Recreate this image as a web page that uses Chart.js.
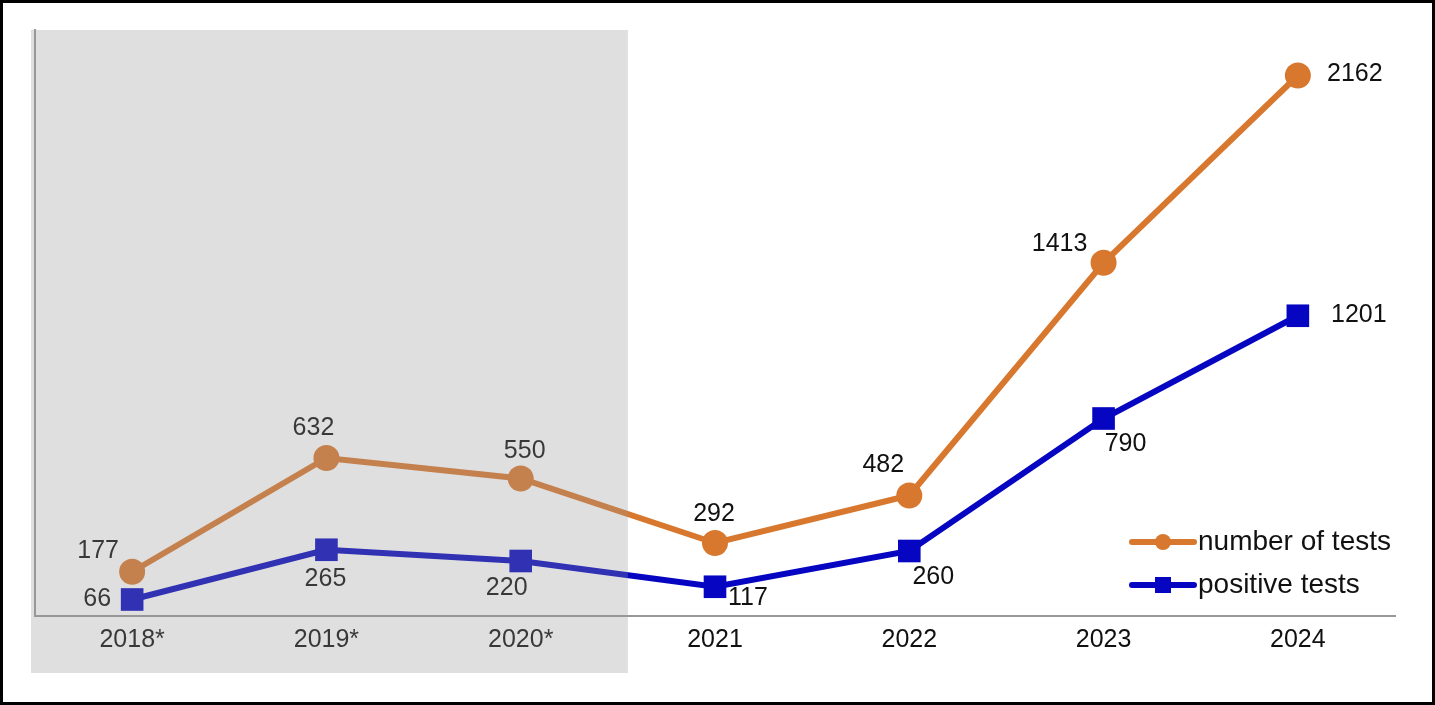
<!DOCTYPE html>
<html>
<head>
<meta charset="utf-8">
<script src="https://cdn.jsdelivr.net/npm/chart.js@4/dist/chart.umd.min.js"></script>
<style>
  html, body { margin: 0; padding: 0; background: #fff; }
  #wrap { width: 1435px; height: 705px; position: relative; }
</style>
</head>
<body>
<div id="wrap"><canvas id="myChart"></canvas></div>
<script>
// dados do grafico
const anos = ['2018*', '2019*', '2020*', '2021', '2022', '2023', '2024'];
const numeroTestes = [177, 632, 550, 292, 482, 1413, 2162];
const testesPositivos = [66, 265, 220, 117, 260, 790, 1201];
const nomesSeries = ['number of tests', 'positive tests'];

const corLaranja = '#D8782E';
const corAzul = '#0606C2';
const fonte = '"Liberation Sans", Arial, Helvetica, sans-serif';

// deslocamento dos rotulos em relacao ao ponto (so estilo)
const deslocLaranja = [[-34, -21], [-13, -30], [4, -27], [-1, -29], [-26, -30], [-44, -19], [57, -1]];
const deslocAzul = [[-35, 0], [-1, 29], [-14, 27], [33, 11], [24, 26], [22, 26], [61, -1]];

const pluginRotulos = {
    id: 'rotulos',
    afterDatasetsDraw(chart) {
        const ctx = chart.ctx;
        const desloc = [deslocLaranja, deslocAzul];
        ctx.save();
        ctx.font = '25px ' + fonte;
        ctx.fillStyle = '#111';
        ctx.textAlign = 'center';
        ctx.textBaseline = 'middle';
        chart.data.datasets.forEach((ds, i) => {
            const meta = chart.getDatasetMeta(i);
            meta.data.forEach((pt, j) => {
                ctx.fillText(String(ds.data[j]), pt.x + desloc[i][j][0], pt.y + desloc[i][j][1]);
            });
        });
        ctx.restore();
    }
};

const pluginFundo = {
    id: 'fundo',
    beforeDraw(chart) {
        const ctx = chart.ctx;
        ctx.save();
        ctx.fillStyle = '#fff';
        ctx.fillRect(0, 0, chart.width, chart.height);
        ctx.restore();
    },
    afterDraw(chart) {
        const ctx = chart.ctx;
        const x = chart.scales.x;
        ctx.save();
        // area cinza sobre 2018-2020
        const fim = (x.getPixelForValue(2) + x.getPixelForValue(3)) / 2 + 10;
        ctx.fillStyle = 'rgba(150,150,150,0.3)';
        ctx.fillRect(31, 30, fim - 31, 643);

        // legenda
        ctx.font = '28px ' + fonte;
        ctx.textBaseline = 'middle';
        ctx.textAlign = 'left';
        const linhas = [542, 585];
        chart.data.datasets.forEach((ds, i) => {
            const y = linhas[i];
            ctx.strokeStyle = ds.borderColor;
            ctx.lineWidth = 6;
            ctx.lineCap = 'round';
            ctx.beginPath();
            ctx.moveTo(1132, y);
            ctx.lineTo(1194, y);
            ctx.stroke();
            ctx.fillStyle = ds.borderColor;
            if (i == 0) {
                ctx.beginPath();
                ctx.arc(1163, y, 8, 0, Math.PI * 2);
                ctx.fill();
            } else {
                ctx.fillRect(1155, y - 8, 16, 16);
            }
            ctx.fillStyle = '#111';
            ctx.fillText(ds.label, 1198, y);
        });

        // moldura preta
        ctx.strokeStyle = '#000';
        ctx.lineWidth = 3;
        ctx.strokeRect(1.5, 1.5, chart.width - 3, chart.height - 3);
        ctx.restore();
    }
};

const config = {
    type: 'line',
    data: {
        labels: anos,
        datasets: [{
            label: nomesSeries[0],
            data: numeroTestes,
            borderColor: corLaranja,
            backgroundColor: corLaranja,
            borderWidth: 6,
            pointStyle: 'circle',
            pointRadius: 13,
            pointHoverRadius: 13,
            pointBorderWidth: 0,
            tension: 0
        }, {
            label: nomesSeries[1],
            data: testesPositivos,
            borderColor: corAzul,
            backgroundColor: corAzul,
            borderWidth: 6,
            pointStyle: 'rect',
            pointRadius: 16,
            pointHoverRadius: 16,
            pointBorderWidth: 0,
            tension: 0
        }]
    },
    options: {
        responsive: true,
        maintainAspectRatio: false,
        animation: false,
        layout: { padding: { top: 30, right: 40, left: 0, bottom: 0 } },
        plugins: {
            legend: { display: false },
            tooltip: { enabled: false }
        },
        scales: {
            x: {
                offset: true,
                grid: { display: false, drawTicks: false },
                border: { display: true, color: '#999', width: 2 },
                ticks: { color: '#111', font: { family: fonte, size: 25 }, padding: 9 },
                afterFit(s) { s.height = 89; }
            },
            y: {
                min: 0,
                max: 2344,
                grid: { display: false, drawTicks: false },
                border: { display: true, color: '#999', width: 2 },
                ticks: { display: false },
                afterFit(s) { s.width = 35; }
            }
        }
    },
    plugins: [pluginFundo, pluginRotulos]
};

window.onload = () => {
    new Chart(document.getElementById('myChart'), config);
};
</script>
</body>
</html>
